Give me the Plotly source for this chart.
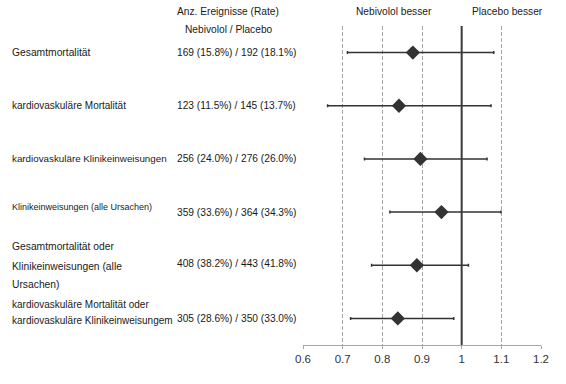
import plotly.graph_objects as go

# ---- data ----
endpoints = [
    ["Gesamtmortalität"],
    ["kardiovaskuläre Mortalität"],
    ["kardiovaskuläre Klinikeinweisungen"],
    ["Klinikeinweisungen (alle Ursachen)"],
    ["Gesamtmortalität oder", "Klinikeinweisungen (alle", "Ursachen)"],
    ["kardiovaskuläre Mortalität oder", "kardiovaskuläre Klinikeinweisungem"],
]
events = [
    "169 (15.8%) / 192 (18.1%)",
    "123 (11.5%) / 145 (13.7%)",
    "256 (24.0%) / 276 (26.0%)",
    "359 (33.6%) / 364 (34.3%)",
    "408 (38.2%) / 443 (41.8%)",
    "305 (28.6%) / 350 (33.0%)",
]
hr = [0.877, 0.842, 0.896, 0.949, 0.887, 0.839]
ci_low = [0.712, 0.662, 0.755, 0.819, 0.773, 0.720]
ci_high = [1.081, 1.074, 1.064, 1.099, 1.017, 0.980]
ticks = [0.6, 0.7, 0.8, 0.9, 1.0, 1.1, 1.2]
tick_labels = ["0.6", "0.7", "0.8", "0.9", "1", "1.1", "1.2"]

n = len(hr)
rows = [n - i for i in range(n)]

W, H = 566, 384
ML, MR, MT, MB = 303, 25, 26, 39
PW = W - ML - MR
PH = H - MT - MB


def px(x):
    return (x - ML) / PW


def py(y):
    return 1 - (y - MT) / PH


FONT = "Liberation Sans, Arial, sans-serif"
TXT = "#1a1a1a"

fig = go.Figure()
fig.add_trace(go.Scatter(
    x=hr, y=rows, mode="markers",
    marker=dict(symbol="diamond", size=11, color="#333333"),
    error_x=dict(type="data", symmetric=False,
                 array=[h - m for h, m in zip(ci_high, hr)],
                 arrayminus=[m - l for m, l in zip(hr, ci_low)],
                 color="#333333", thickness=1.5, width=1.5),
    showlegend=False, hoverinfo="skip",
))

fig.add_shape(type="line", x0=1, x1=1, y0=0, y1=1, xref="x", yref="paper",
              line=dict(color="#3a3a3a", width=2))

annotations = []
label_sizes = [10.3, 10.0, 9.8, 9.0, 10.3, 10.0]
for i, (lines, ev, r) in enumerate(zip(endpoints, events, rows)):
    if len(lines) == 1:
        offs = [0]
    elif len(lines) == 2:
        offs = [14, -2]
    else:
        offs = [19, -1, -19]
    if i == 3:
        offs = [5]
    for line, o in zip(lines, offs):
        annotations.append(dict(x=px(10), xref="paper", y=r, yref="y",
                                text=line, showarrow=False, xanchor="left",
                                yanchor="middle", yshift=o,
                                font=dict(size=label_sizes[i], color=TXT, family=FONT)))
    eshift = 0
    if i == 4:
        eshift = 2
    annotations.append(dict(x=px(175), xref="paper", y=r, yref="y",
                            text=ev, showarrow=False, xanchor="left",
                            yanchor="middle", yshift=eshift,
                            font=dict(size=10.2, color=TXT, family=FONT)))

headers = [
    ("Anz. Ereignisse (Rate)", 175, 11, "left"),
    ("Nebivolol / Placebo", 183, 29.5, "left"),
    ("Nebivolol besser", 394, 11, "center"),
    ("Placebo besser", 507, 11, "center"),
]
for t, x, y, anc in headers:
    annotations.append(dict(x=px(x), xref="paper", y=py(y), yref="paper",
                            text=t, showarrow=False, xanchor=anc, yanchor="middle",
                            font=dict(size=10.2, color=TXT, family=FONT)))

fig.update_layout(
    width=W, height=H,
    margin=dict(l=ML, r=MR, t=MT, b=MB),
    paper_bgcolor="white", plot_bgcolor="white",
    annotations=annotations,
    xaxis=dict(range=[0.6, 1.2], tickvals=ticks, ticktext=tick_labels,
               showgrid=True, gridcolor="#a6a6a6", griddash="4px,2px", gridwidth=1,
               zeroline=False, showline=True, linecolor="#a6a6a6", linewidth=1,
               ticks="outside", ticklen=3, tickcolor="#a6a6a6",
               tickfont=dict(size=11.5, color="#333333", family=FONT)),
    yaxis=dict(range=[0.5, n + 0.5], visible=False, showgrid=False, zeroline=False),
)

fig.write_html("out.html", config={"displayModeBar": False},
               post_script="document.body.style.margin='0';document.body.style.overflow='hidden';")
